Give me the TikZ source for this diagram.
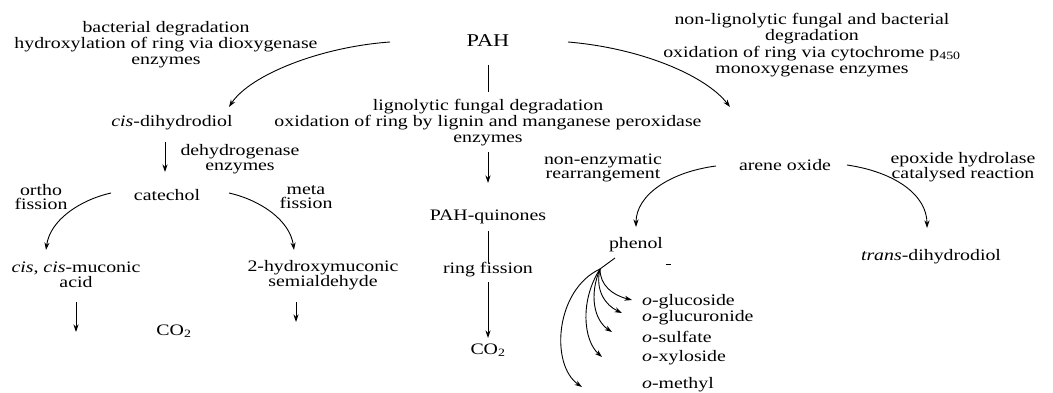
\documentclass[tikz,border=0pt]{standalone}
\usepackage{fontspec}
\setmainfont[FakeStretch=1.24]{Liberation Serif}
\usetikzlibrary{arrows.meta}
\begin{document}
\begin{tikzpicture}[x=1pt,y=1pt,
  txt/.style={inner sep=0pt, font=\fontsize{16}{16}\selectfont, align=center},
  two/.style={inner sep=0pt, font=\fontsize{16}{14.5}\selectfont, align=center},
  lbl/.style={inner sep=0pt, font=\fontsize{16}{16}\selectfont, anchor=west},
  arr/.style={line width=0.9pt, -{Stealth[length=7.5pt,width=5pt]}},
  ln/.style={line width=0.9pt}]
\fill[white] (0,0) rectangle (1053,-393);
\useasboundingbox (0,0) rectangle (1053,-393);

% nodes
\node[txt, font=\fontsize{18}{18}\selectfont] (pah) at (488,-41) {PAH};
\node[txt] (bact) at (166,-45) {bacterial degradation\\hydroxylation of ring via dioxygenase\\enzymes};
\node[txt] (lig) at (488,-123) {lignolytic fungal degradation\\oxidation of ring by lignin and manganese peroxidase\\enzymes};
\node[txt, font=\fontsize{16}{16.5}\selectfont] (nonlig) at (812,-45) {non-lignolytic fungal and bacterial\\degradation\\oxidation of ring via cytochrome p\textsubscript{450}\\monoxygenase enzymes};
\node[txt] (cisd) at (172,-123) {\textit{cis}-dihydrodiol};
\node[two] (dehyd) at (240,-159) {dehydrogenase\\enzymes};
\node[txt] (cat) at (167,-195) {catechol};
\node[two] (ortho) at (41,-197) {ortho\\fission};
\node[two] (meta) at (306,-197) {meta\\fission};
\node[two] (ccm) at (76,-275) {\textit{cis}, \textit{cis}-muconic\\acid};
\node[txt] (co2a) at (174,-331) {CO\textsubscript{2}};
\node[two] (hms) at (323,-275) {2-hydroxymuconic\\semialdehyde};
\node[txt] (pahq) at (488,-217) {PAH-quinones};
\node[txt] (ring) at (488,-270) {ring fission};
\node[txt] (co2b) at (488,-350) {CO\textsubscript{2}};
\node[two] (nonenz) at (603,-168) {non-enzymatic\\rearrangement};
\node[txt] (arene) at (785,-165) {arene oxide};
\node[two] (epox) at (963,-167) {epoxide hydrolase\\catalysed reaction};
\node[txt] (phenol) at (636,-245) {phenol};
\node[txt] (trans) at (931,-257) {\textit{trans}-dihydrodiol};
\node[lbl] (glc) at (642,-302) {\textit{o}-glucoside};
\node[lbl] (glu) at (642,-318) {\textit{o}-glucuronide};
\node[lbl] (sul) at (642,-337) {\textit{o}-sulfate};
\node[lbl] (xyl) at (642,-358) {\textit{o}-xyloside};
\node[lbl] (met) at (642,-385) {\textit{o}-methyl};

% connector end points
\coordinate (pahL) at (390,-42);   \coordinate (cisdT) at (229,-107);
\coordinate (pahR) at (568,-42);   \coordinate (areneT) at (730,-107);
\coordinate (pahS) at (488,-65);   \coordinate (ligT) at (488,-92);
\coordinate (ligB) at (488,-152);  \coordinate (pahqT) at (488,-183);
\coordinate (pahqB) at (488,-231); \coordinate (ringT) at (488,-263);
\coordinate (ringB) at (488,-282); \coordinate (co2bT) at (488,-338);
\coordinate (cisdB) at (165,-142); \coordinate (catT) at (165,-172);
\coordinate (catL) at (111,-193);  \coordinate (ccmT) at (46,-250);
\coordinate (catR) at (229,-193);  \coordinate (hmsT) at (294,-250);
\coordinate (ccmB) at (76,-302);   \coordinate (ccmE) at (76,-332);
\coordinate (hmsB) at (296,-302);  \coordinate (hmsE) at (296,-322);
\coordinate (areneL) at (716,-166); \coordinate (phenolT) at (636,-227);
\coordinate (areneR) at (847,-165); \coordinate (transT) at (927,-228);
\coordinate (phenolB) at (615,-258); \coordinate (hub) at (600,-269);
\coordinate (glcA) at (632,-300);
\coordinate (gluA) at (622,-313);
\coordinate (sulA) at (612,-332);
\coordinate (xylA) at (602,-357);
\coordinate (metA) at (582,-387);

% connectors
\draw[arr] (pahL) .. controls (320,-47) and (250,-75) .. (cisdT);
\draw[arr] (pahR) .. controls (640,-48) and (705,-75) .. (areneT);
\draw[ln] (pahS) -- (ligT);
\draw[arr] (ligB) -- (pahqT);
\draw[ln] (pahqB) -- (ringT);
\draw[arr] (ringB) -- (co2bT);
\draw[arr] (cisdB) -- (catT);
\draw[arr] (catL) .. controls (80,-200) and (50,-220) .. (ccmT);
\draw[arr] (catR) .. controls (260,-200) and (290,-220) .. (hmsT);
\draw[arr] (ccmB) -- (ccmE);
\draw[arr] (hmsB) -- (hmsE);
\draw[arr] (areneL) .. controls (670,-172) and (636,-195) .. (phenolT);
\draw[arr] (areneR) .. controls (895,-172) and (927,-195) .. (transT);
\draw[ln] (phenolB) -- (hub);
\draw[arr] (hub) .. controls (600,-285) and (612,-295) .. (glcA);
\draw[arr] (hub) .. controls (595,-290) and (605,-305) .. (gluA);
\draw[arr] (hub) .. controls (589,-295) and (594,-320) .. (sulA);
\draw[arr] (hub) .. controls (580,-300) and (583,-340) .. (xylA);
\draw[arr] (hub) .. controls (555,-290) and (550,-365) .. (metA);
\draw[line width=0.8pt] (666,-264) -- (671,-264);
\end{tikzpicture}
\end{document}
